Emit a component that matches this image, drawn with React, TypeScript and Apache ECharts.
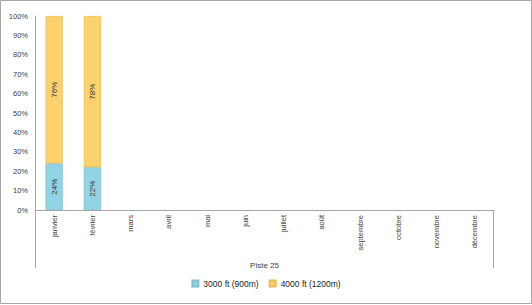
import React, { useEffect, useRef } from "react";
import * as echarts from "echarts";

const months = ["janvier", "février", "mars", "avril", "mai", "juin", "juillet", "août", "septembre", "octobre", "novembre", "décembre"];
const s3000 = [24, 22, null, null, null, null, null, null, null, null, null, null];
const s4000 = [76, 78, null, null, null, null, null, null, null, null, null, null];
const seriesNames = ["3000 ft (900m)", "4000 ft (1200m)"];
const xTitle = "Piste 25";

export default function App() {
  const ref = useRef<HTMLDivElement>(null);
  useEffect(() => {
    document.body.style.margin = "0";
    const chart = echarts.init(ref.current!, null, { renderer: "svg" });
    const font = "Liberation Sans";
    const labelCfg = {
      show: true,
      position: "inside",
      rotate: 90,
      formatter: (p: any) => (p.value == null ? "" : p.value + "%"),
      fontSize: 8,
      color: "#333",
      fontFamily: font,
    };
    chart.setOption({
      animation: false,
      backgroundColor: "#fff",
      grid: { left: 35, right: 38, top: 16, bottom: 95 },
      xAxis: {
        type: "category",
        data: months,
        axisLine: { lineStyle: { color: "#A6A6A6" } },
        axisTick: { show: false },
        axisLabel: { rotate: 90, fontSize: 7.5, color: "#404040", fontFamily: font, margin: 5, interval: 0 },
        name: xTitle,
        nameLocation: "middle",
        nameGap: 51,
        nameTextStyle: { fontSize: 8, color: "#404040", fontFamily: font },
      },
      yAxis: {
        type: "value",
        min: 0,
        max: 100,
        interval: 10,
        axisLine: { show: true, lineStyle: { color: "#A6A6A6" } },
        axisTick: { show: false },
        splitLine: { show: false },
        axisLabel: { formatter: "{value}%", fontSize: 7.5, color: "#404040", fontFamily: font, margin: 7 },
      },
      legend: {
        bottom: 12,
        left: "center",
        itemWidth: 6,
        itemHeight: 6,
        itemGap: 10,
        icon: "rect",
        textStyle: { fontSize: 8.5, color: "#222", fontFamily: font },
        data: seriesNames,
      },
      series: [
        {
          name: seriesNames[0],
          type: "bar",
          stack: "a",
          data: s3000,
          barWidth: "45%",
          itemStyle: { color: "#93D4E4", borderColor: "#7FBFCF", borderWidth: 0.8 },
          label: labelCfg,
        },
        {
          name: seriesNames[1],
          type: "bar",
          stack: "a",
          data: s4000,
          barWidth: "45%",
          itemStyle: { color: "#FDD26E", borderColor: "#E8BC58", borderWidth: 0.8 },
          label: labelCfg,
        },
      ],
      graphic: [
        { type: "rect", shape: { x: 0.5, y: 0.5, width: 531, height: 303 }, style: { fill: "none", stroke: "#A6A6A6", lineWidth: 1 }, silent: true },
        { type: "line", shape: { x1: 35.5, y1: 210, x2: 35.5, y2: 268 }, style: { stroke: "#A6A6A6", lineWidth: 1 }, silent: true },
        { type: "line", shape: { x1: 493.5, y1: 210, x2: 493.5, y2: 268 }, style: { stroke: "#A6A6A6", lineWidth: 1 }, silent: true },
      ],
    });
    return () => chart.dispose();
  }, []);
  return <div ref={ref} style={{ width: 532, height: 305 }} />;
}
